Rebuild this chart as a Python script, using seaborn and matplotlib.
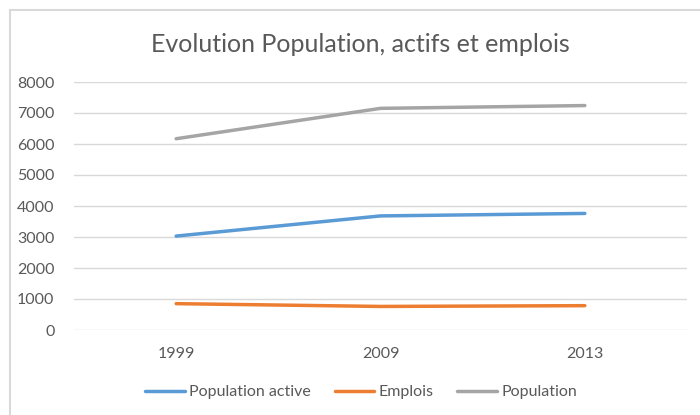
import pandas as pd
import matplotlib.pyplot as plt
import seaborn as sns
from matplotlib.patches import Rectangle

# données
annees = ["1999", "2009", "2013"]
population_active = [3030, 3680, 3760]
emplois = [850, 760, 785]
population = [6170, 7150, 7240]

series = ["Population active", "Emplois", "Population"]
couleurs = ["#5B9BD5", "#ED7D31", "#A5A5A5"]

df = pd.DataFrame({
    "annee": annees * 3,
    "valeur": population_active + emplois + population,
    "serie": [series[0]] * 3 + [series[1]] * 3 + [series[2]] * 3,
})

sns.set_theme(style="white")
plt.rcParams["font.family"] = ["Lato", "DejaVu Sans"]

gris_texte = "#595959"

fig = plt.figure(figsize=(7, 4.15), dpi=100)
ax = fig.add_axes([74 / 700, 1 - 330 / 415, (687 - 74) / 700, (330 - 82) / 415])

sns.lineplot(data=df, x="annee", y="valeur", hue="serie", hue_order=series,
             palette=couleurs, linewidth=2.5, ax=ax, legend=True,
             solid_capstyle="round")

ax.set_xlim(-0.5, 2.5)
ax.set_ylim(0, 8000)
ax.set_yticks(range(0, 8001, 1000))
ax.yaxis.grid(True, color="#D9D9D9", linewidth=1)
ax.set_axisbelow(True)
for s in ax.spines.values():
    s.set_visible(False)
ax.tick_params(axis="both", length=0, labelsize=11.5, labelcolor=gris_texte)
ax.tick_params(axis="y", pad=14)
ax.tick_params(axis="x", pad=12)
ax.set_xlabel("")
ax.set_ylabel("")

# légende en bas
handles, labels = ax.get_legend_handles_labels()
ax.get_legend().remove()
fig.legend(handles, labels, loc="center", bbox_to_anchor=(361 / 700, 1 - 392 / 415),
           ncol=3, frameon=False, fontsize=11.5, labelcolor=gris_texte,
           handlelength=2.5, handletextpad=0.25, columnspacing=1.5)

fig.text(360 / 700, 1 - 45 / 415, "Evolution Population, actifs et emplois",
         ha="center", va="center", fontsize=18, color=gris_texte)

# cadre du graphique
fig.patches.append(Rectangle((10 / 700, -0.1), 1.2, 1 - 10 / 415 + 0.1,
                             transform=fig.transFigure, fill=False,
                             edgecolor="#D9D9D9", linewidth=1.5))

plt.savefig("out.png", dpi=100)
